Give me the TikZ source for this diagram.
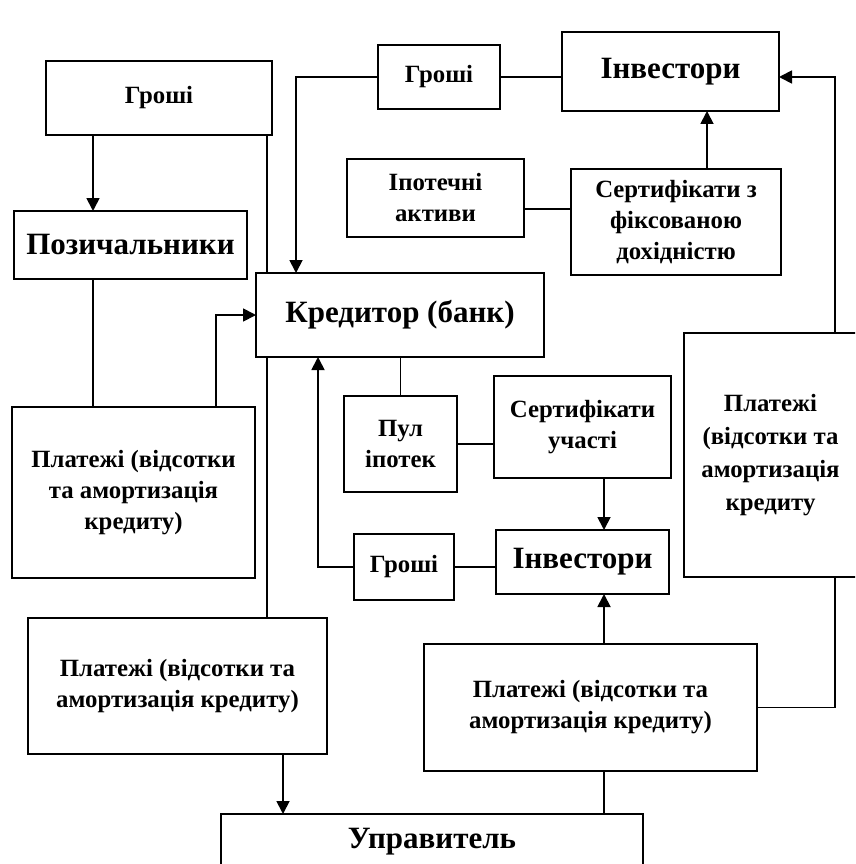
\documentclass[tikz,border=0pt]{standalone}
\usepackage{fontspec}
\setmainfont{Liberation Serif}
\usetikzlibrary{arrows.meta}
\begin{document}
\begin{tikzpicture}[x=1pt,y=-1pt,
  box/.style={draw,line width=1.8pt,inner sep=0pt,outer sep=0pt,align=center,
    font=\bfseries\fontsize{24.8}{31}\selectfont},
  big/.style={font=\bfseries\fontsize{31}{35}\selectfont},
  conn/.style={line width=1.8pt},
  arr/.style={conn,-{Triangle[length=13pt,width=13pt]}}]
\useasboundingbox (0,0) rectangle (855,864);
\clip (0,0) rectangle (855,864);
\fill[white] (0,0) rectangle (855,864);
% nodes
\node[box,minimum width=226pt,minimum height=74pt] (g1) at (159,98) {Гроші};
\node[box,big,minimum width=233pt,minimum height=68pt] (poz) at (130.5,245) {Позичальники};
\node[box,minimum width=122pt,minimum height=64pt] (g2) at (439,77) {Гроші};
\node[box,big,minimum width=217pt,minimum height=79pt] (inv1) at (670.5,71.5) {Інвестори};
\node[box,minimum width=177pt,minimum height=78pt] (ipo) at (435.5,198) {Іпотечні\\активи};
\node[box,minimum width=210pt,minimum height=106pt] (sfd) at (676,222) {Сертифікати з\\фіксованою\\дохідністю};
\node[box,big,minimum width=288pt,minimum height=84pt] (kred) at (400,315) {Кредитор (банк)};
\node[box,minimum width=243pt,minimum height=171pt] (pl1) at (133.5,492.5) {Платежі (відсотки\\та амортизація\\кредиту)};
\node[box,minimum width=113pt,minimum height=96pt] (pul) at (400.5,444) {Пул\\іпотек};
\node[box,minimum width=177pt,minimum height=102pt] (su) at (582.5,427) {Сертифікати\\участі};
\node[box,minimum width=173pt,minimum height=244pt,font=\bfseries\fontsize{24.8}{33}\selectfont] (pl2) at (770.5,455) {Платежі\\(відсотки та\\амортизація\\кредиту};
\node[box,minimum width=100pt,minimum height=66pt] (g3) at (404,567) {Гроші};
\node[box,big,minimum width=173pt,minimum height=64pt] (inv2) at (582.5,562) {Інвестори};
\node[box,minimum width=299pt,minimum height=136pt] (pl3) at (177.5,686) {Платежі (відсотки та\\амортизація кредиту)};
\node[box,minimum width=333pt,minimum height=127pt] (pl4) at (590.5,707.5) {Платежі (відсотки та\\амортизація кредиту)};
\node[box,big,minimum width=422pt,minimum height=56pt] (upr) at (432,842) {Управитель};
% helper coordinates
\coordinate (x93) at (93,0);
\coordinate (x267) at (267,0);
\coordinate (x216) at (216,0);
\coordinate (x296) at (296,0);
\coordinate (x707) at (707,0);
\coordinate (x835) at (835,0);
\coordinate (x318) at (318,0);
\coordinate (x604) at (604,0);
\coordinate (x283) at (283,0);
\coordinate (y209) at (0,209);
% connectors
\draw[arr] (g1.south -| x93) -- (poz.north -| x93);
\draw[conn] (g1.south -| x267) -- (kred.north -| x267);
\draw[conn] (kred.south -| x267) -- (pl3.north -| x267);
\draw[conn] (poz.south -| x93) -- (pl1.north -| x93);
\draw[arr] (pl1.north -| x216) |- (kred.west);
\draw[arr] (g2.west) -| (kred.north -| x296);
\draw[conn] (g2.east) -- (g2.east -| inv1.west);
\draw[arr] (sfd.north -| x707) -- (inv1.south -| x707);
\draw[conn] (ipo.east |- y209) -- (sfd.west |- y209);
\draw[arr] (pl2.north -| x835) |- (inv1.east |- g2.east);
\draw[conn] (pl2.south -| x835) |- (pl4.east);
\draw[conn] (kred.south -| pul.north) -- (pul.north);
\draw[conn] (pul.east) -- (pul.east -| su.west);
\draw[arr] (su.south -| x604) -- (inv2.north -| x604);
\draw[conn] (g3.east) -- (g3.east -| inv2.west);
\draw[arr] (g3.west) -| (kred.south -| x318);
\draw[arr] (pl4.north -| x604) -- (inv2.south -| x604);
\draw[conn] (pl4.south -| x604) -- (upr.north -| x604);
\draw[arr] (pl3.south -| x283) -- (upr.north -| x283);
\end{tikzpicture}
\end{document}
